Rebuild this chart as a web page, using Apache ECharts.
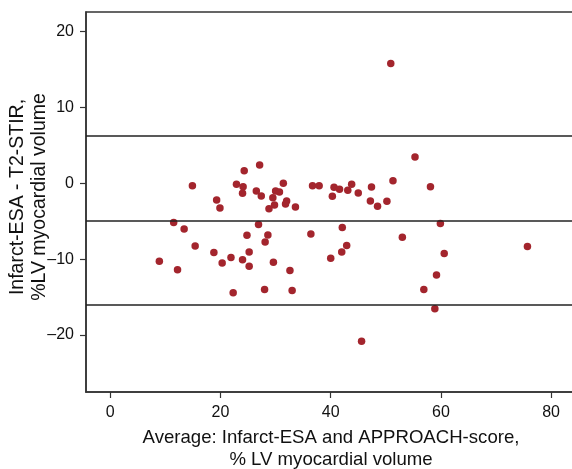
<!DOCTYPE html>
<html>
<head>
<meta charset="utf-8">
<script src="https://cdn.jsdelivr.net/npm/echarts@6/dist/echarts.min.js"></script>
<style>html,body{margin:0;padding:0;background:#fff;}#c{width:572px;height:469px;}</style>
</head>
<body>
<div id="c"></div>
<script>
// Bland-Altman data: x = average, y = difference
const avgValues = [
  27.1, 24.3, 14.9, 22.9, 24.1, 24.0, 26.5, 27.4, 31.4, 30.0,
  30.7, 29.5, 32.0, 31.8, 29.8, 28.8, 33.6, 19.3, 19.9, 36.7,
  37.9, 40.3, 11.5, 13.4, 26.9, 24.8, 28.6, 28.1, 15.4, 18.8,
  25.2, 8.9, 12.2, 20.3, 21.9, 24.0, 25.2, 29.6, 32.6, 28.0,
  33.0, 22.3, 36.4, 40.0, 55.3, 40.6, 41.6, 43.1, 43.8, 45.0,
  47.4, 51.3, 58.1, 47.2, 48.5, 50.2, 42.1, 59.9, 53.0, 42.9,
  42.0, 75.7, 60.6, 59.2, 56.9, 58.9, 45.6, 50.9
];
const diffValues = [
  2.41, 1.66, -0.31, -0.14, -0.44, -1.32, -1.01, -1.67, 0.0, -1.01,
  -1.14, -1.89, -2.33, -2.72, -2.86, -3.34, -3.12, -2.2, -3.25, -0.31,
  -0.31, -1.71, -5.18, -6.01, -5.44, -6.85, -6.8, -7.73, -8.25, -9.13,
  -9.04, -10.27, -11.4, -10.49, -9.78, -10.09, -10.93, -10.4, -11.5, -14.0,
  -14.13, -14.43, -6.67, -9.87, 3.46, -0.53, -0.79, -0.93, -0.14, -1.28,
  -0.49, 0.35, -0.44, -2.33, -3.03, -2.37, -5.84, -5.31, -7.11, -8.21,
  -9.04, -8.34, -9.26, -12.07, -14.0, -16.54, -20.8, 15.79
];
const referenceLines = [6.2, -4.9, -16.05]; // upper LoA, mean, lower LoA
const xTicks = [0, 20, 40, 60, 80];
const yTicks = [-20, -10, 0, 10, 20];
const xTitle = 'Average: Infarct-ESA and APPROACH-score,\n% LV myocardial volume';
const yTitle = 'Infarct-ESA - T2-STIR,\n%LV myocardial volume';

const points = avgValues.map((x, i) => [x, diffValues[i]]);
const fmt = v => (v < 0 ? '\u2013' + Math.abs(v) : String(v));
const FONT = '"Liberation Sans", Arial, Helvetica, sans-serif';

const chart = echarts.init(document.getElementById('c'), null, {renderer: 'canvas'});
chart.setOption({
  animation: false,
  backgroundColor: '#fff',
  grid: {left: 86, top: 12, width: 500, height: 380, outerBoundsMode: 'none', containLabel: false,
         show: true, borderColor: '#333', borderWidth: 1.5, backgroundColor: 'transparent'},
  xAxis: {
    type: 'value', min: -4.41, max: 86.33,
    axisLine: {show: true, onZero: false, lineStyle: {color: '#333', width: 1.5}},
    axisTick: {show: true, length: 6, customValues: xTicks, lineStyle: {color: '#333', width: 1.2}},
    axisLabel: {customValues: xTicks, color: '#111', fontSize: 16, fontFamily: FONT, margin: 13, formatter: fmt},
    splitLine: {show: false}
  },
  yAxis: {
    type: 'value', min: -27.5, max: 22.57,
    axisLine: {show: true, onZero: false, lineStyle: {color: '#333', width: 1.5}},
    axisTick: {show: true, length: 6, customValues: yTicks, lineStyle: {color: '#333', width: 1.2}},
    axisLabel: {customValues: yTicks, color: '#111', fontSize: 16, fontFamily: FONT, margin: 12, formatter: fmt},
    splitLine: {show: false}
  },
  series: [{
    type: 'scatter',
    data: points,
    symbol: 'circle',
    symbolSize: 7.5,
    itemStyle: {color: '#a3252d', opacity: 1},
    markLine: {
      silent: true, symbol: 'none',
      label: {show: false},
      lineStyle: {color: '#222', width: 1.5, type: 'solid'},
      data: referenceLines.map(v => ({yAxis: v}))
    },
    z: 3
  }],
  graphic: [
    {type: 'text', x: 331, y: 449, z: 10,
     style: {text: xTitle, font: '18.6px ' + FONT, fill: '#111', align: 'center', verticalAlign: 'middle', lineHeight: 22}},
    {type: 'text', rotation: Math.PI / 2, x: 29, y: 197, z: 10,
     style: {text: yTitle, font: '19.5px ' + FONT, fill: '#111', align: 'center', verticalAlign: 'middle', lineHeight: 22}}
  ]
});
</script>
</body>
</html>
